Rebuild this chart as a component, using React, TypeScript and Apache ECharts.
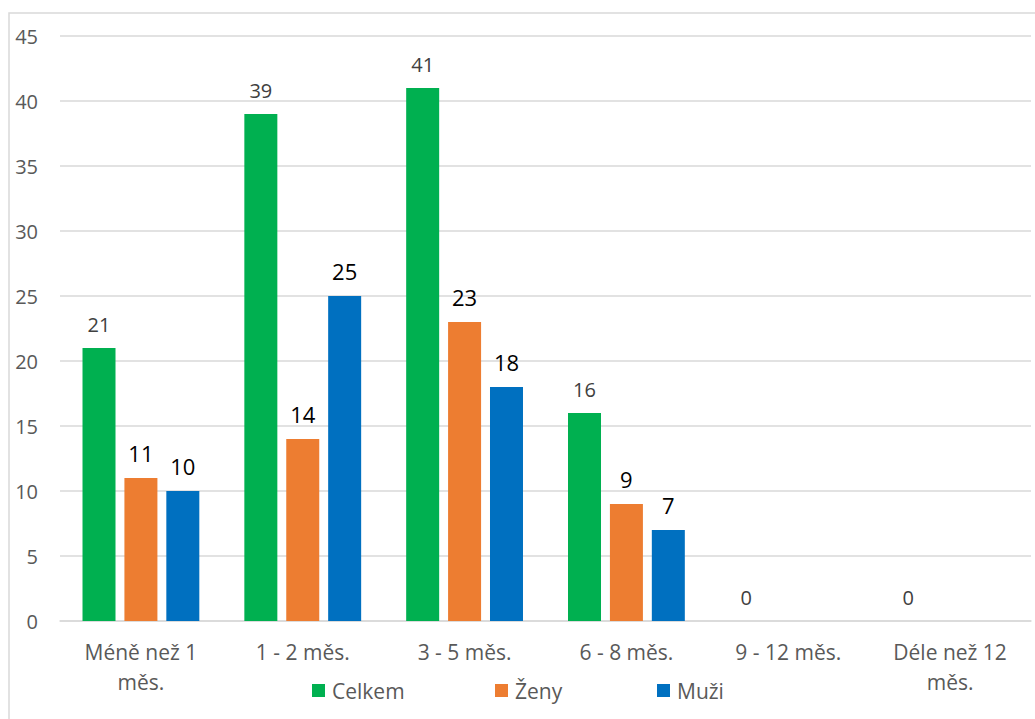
import React, { useEffect, useRef } from "react";
import * as echarts from "echarts";

const categories = ["Méně než 1\nměs.", "1 - 2 měs.", "3 - 5 měs.", "6 - 8 měs.", "9 - 12 měs.", "Déle než 12\nměs."];
const seriesNames = ["Celkem", "Ženy", "Muži"];
const celkem = [21, 39, 41, 16, 0, 0];
const zeny: (number | null)[] = [11, 14, 23, 9, null, null];
const muzi: (number | null)[] = [10, 25, 18, 7, null, null];
const yTicks = { min: 0, max: 45, interval: 5 };

const FONT = "Open Sans";
const legendLefts = [307, 490, 652];

export default function App() {
  const ref = useRef<HTMLDivElement>(null);
  useEffect(() => {
    document.body.style.margin = "0";
    if (!ref.current) return;
    const chart = echarts.init(ref.current, undefined, { renderer: "svg" });
    const bigLabel = {
      show: true,
      position: "top" as const,
      distance: 14,
      color: "#000000",
      fontSize: 22,
      fontFamily: FONT,
    };
    chart.setOption({
      animation: false,
      backgroundColor: "#ffffff",
      textStyle: { fontFamily: FONT },
      graphic: [
        {
          type: "rect",
          shape: { x: 9, y: 13, width: 1040, height: 720 },
          style: { fill: "none", stroke: "#d9d9d9", lineWidth: 1.5 },
          silent: true,
        },
      ],
      grid: { left: 60, right: 4, top: 36, bottom: 98, containLabel: false },
      legend: seriesNames.map((name, i) => ({
        bottom: 13,
        left: legendLefts[i],
        itemWidth: 13,
        itemHeight: 13,
        icon: "rect",
        textStyle: { fontSize: 21, color: "#595959", fontFamily: FONT, padding: [0, 0, 0, 2] },
        data: [name],
      })),
      xAxis: {
        type: "category",
        data: categories,
        axisLine: { lineStyle: { color: "#d9d9d9", width: 1.5 } },
        axisTick: { show: false },
        axisLabel: {
          color: "#595959",
          fontSize: 21,
          fontFamily: FONT,
          margin: 16,
          lineHeight: 30,
          interval: 0,
        },
      },
      yAxis: {
        type: "value",
        min: yTicks.min,
        max: yTicks.max,
        interval: yTicks.interval,
        axisLine: { show: false },
        axisTick: { show: false },
        splitLine: { lineStyle: { color: "#d9d9d9", width: 1.5 } },
        axisLabel: { color: "#595959", fontSize: 20, fontFamily: FONT, margin: 22 },
      },
      series: [
        {
          name: seriesNames[0],
          type: "bar",
          data: celkem,
          barWidth: 33,
          barGap: "27%",
          itemStyle: { color: "#00B050" },
          label: {
            show: true,
            position: "top",
            distance: 14,
            color: "#404040",
            fontSize: 20,
            fontFamily: FONT,
          },
        },
        {
          name: seriesNames[1],
          type: "bar",
          data: zeny,
          barWidth: 33,
          barGap: "27%",
          itemStyle: { color: "#ED7D31" },
          label: bigLabel,
        },
        {
          name: seriesNames[2],
          type: "bar",
          data: muzi,
          barWidth: 33,
          barGap: "27%",
          itemStyle: { color: "#0070C0" },
          label: bigLabel,
        },
      ],
    });
    return () => chart.dispose();
  }, []);
  return <div ref={ref} style={{ width: 1035, height: 719 }} />;
}
